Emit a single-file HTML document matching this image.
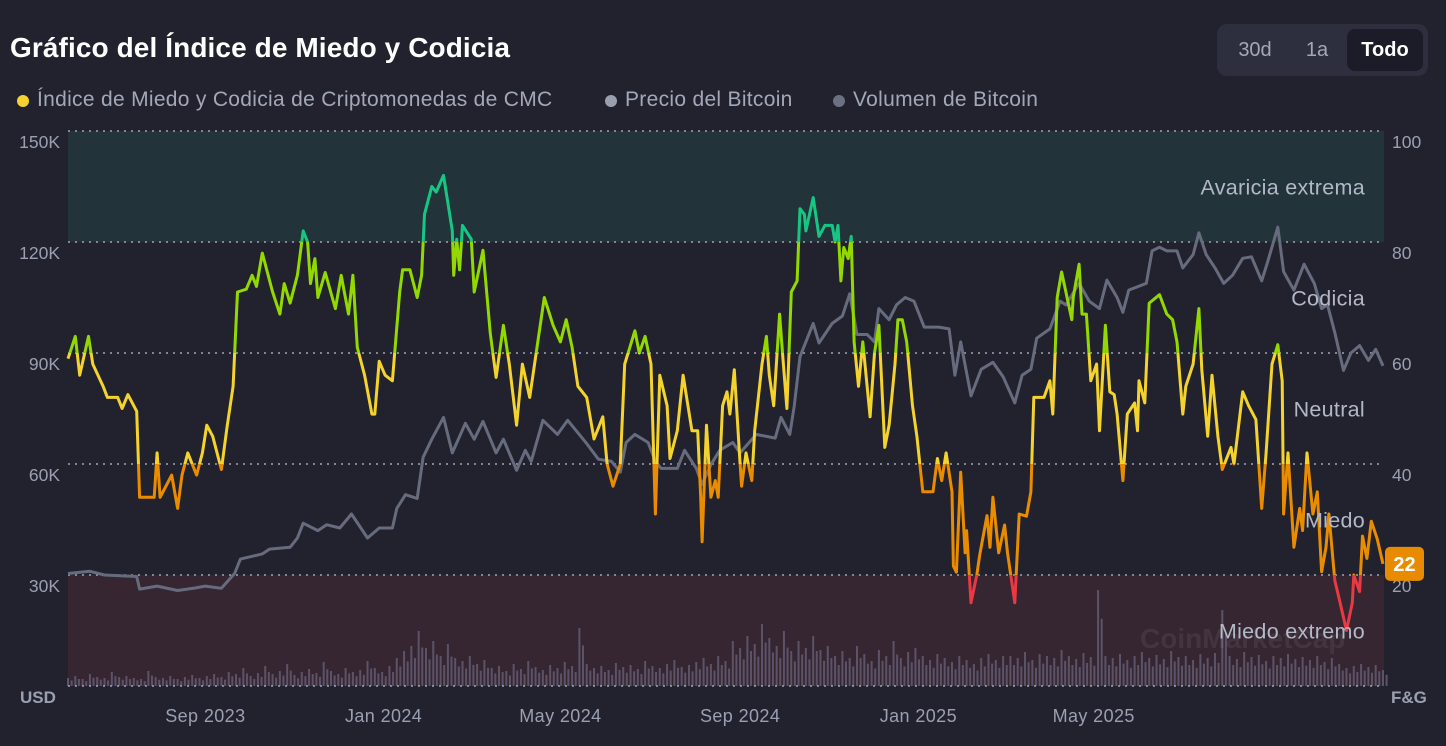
<!DOCTYPE html>
<html><head><meta charset="utf-8">
<style>
html,body{margin:0;padding:0;background:#21222e;width:1446px;height:746px;overflow:hidden;font-family:"Liberation Sans",sans-serif}
#title{position:absolute;left:10px;top:32px;font-size:28px;font-weight:bold;color:#fff;letter-spacing:0.1px}
#tabs{position:absolute;left:1217px;top:24px;width:211px;height:52px;background:#2d2f3e;border-radius:10px}
.tab{position:absolute;top:5px;height:42px;line-height:42px;font-size:20px;color:#a3a8b8;text-align:center;border-radius:8px}
.legend{position:absolute;top:88px;font-size:21px;color:#a3a8b8;white-space:nowrap;letter-spacing:0.3px}
.dot{position:absolute;left:-20px;top:7px;width:12px;height:12px;border-radius:6px}
svg{position:absolute;left:0;top:0}
</style></head><body>
<div id="title">Gráfico del Índice de Miedo y Codicia</div>
<div id="tabs">
 <div class="tab" style="left:8px;width:60px">30d</div>
 <div class="tab" style="left:72px;width:56px">1a</div>
 <div class="tab" style="left:130px;width:76px;background:#1b1c27;color:#fff;font-weight:bold">Todo</div>
</div>
<div class="legend" style="left:37px"><span class="dot" style="background:#f4d32f"></span>Índice de Miedo y Codicia de Criptomonedas de CMC</div>
<div class="legend" style="left:625px"><span class="dot" style="background:#9a9fb0"></span>Precio del Bitcoin</div>
<div class="legend" style="left:853px"><span class="dot" style="background:#6b7083"></span>Volumen de Bitcoin</div>
<svg id="chart" width="1446" height="746"></svg>
<script>
const fgDays=[0,5,8,14,17,24,27,34,37,41,47,49,59,61,63,71,75,78,82,88,92,95,99,105,109,113,116,122,126,129,133,140,145,148,152,157,161,164,166,169,171,176,183,187,192,195,198,203,208,210,213,217,222,227,229,234,239,242,244,249,252,257,260,263,264,266,268,270,276,278,284,289,293,298,302,307,311,316,321,326,332,337,341,345,349,355,360,366,369,373,378,381,388,391,395,399,402,405,410,412,417,421,427,431,433,434,437,440,443,445,448,451,453,456,460,461,464,468,470,475,478,480,483,487,489,492,495,499,501,504,505,510,514,518,523,525,527,529,531,534,536,538,541,544,549,552,555,559,562,566,568,571,574,578,581,585,592,595,598,601,605,606,608,611,614,615,618,622,624,629,631,633,637,641,643,648,651,656,659,661,668,672,674,677,680,683,687,688,692,694,697,700,704,706,710,713,716,718,722,725,730,732,733,737,740,747,752,756,759,763,765,770,774,776,780,783,787,790,796,798,804,808,813,817,820,824,828,831,832,835,839,843,845,848,852,855,858,861,863,867,870,875,879,880,884,886,889,892,896,900];
const fgValues=[59,63,56,63,58,54,52,52,50,52.5,49.5,34,34,42,34,38,32,38,42,38,42,47,45,39,47,54,71,71.5,74,72,78,71,67,72.5,69,74,82,80,72.5,77,70,74.5,68,74,67,74,61,56,49,49,58.5,56,55,71,75,75,70,74,85,90,89,92,87,82,74,80.5,75,83,80.5,71,78.5,63.5,55.6,65,58,47,58,52,61,70,65,62,66,61,54,52,44.5,48.5,40,36,40,58,64,60,63,58,31,56,50.5,41,46,56,46,46,34,26,47,34,37,34,50.5,53,49,57,40,36,42,37,46,58,63,56,50.5,67,60,50,71,73,86,85,82,88,81,83,83,80,83,73,79,77,81,62,54,62,48.5,60,65,43,47,58,66,66,62,50.5,45,35,35,41,37,42,35,21.6,20.5,38.5,24,28,15,20,23.6,30.7,25,34,24,29,24,15,31,30.6,35,52,52,55,49,70,74.6,71,66,70,76,67,67,55,58,46,65,53,52.5,49,37,49,51,46,55,51,69,70.5,67,66,62,49,54,58,68,57,45,56,45,39,43,40,53,50.5,48,32,42,58,61.5,55,31,42,25,32,28,42,31,35,20.6,25,31,19,15.7,10,15,20,17,27,23,29.7,26.5,22];
const priceDays=[0,15,25,47,49,61,75,87,94,105,114,118,133,138,152,157,161,171,177,186,194,205,213,222,225,231,239,243,249,257,263,272,278,284,293,298,307,313,317,325,335,342,355,363,372,378,382,388,397,402,406,417,422,430,434,440,446,455,460,471,484,488,494,497,501,510,514,523,530,535,540,547,552,555,562,567,573,579,586,596,603,607,611,618,625,633,640,648,653,659,663,672,679,683,692,699,706,711,718,722,726,738,742,747,752,759,763,770,774,779,785,791,797,804,810,817,821,828,832,839,846,853,858,862,867,873,878,884,890,895,900];
const priceValues=[30.4,31,30,29.6,26.2,27,25.8,26.5,27,26.4,30.4,34.3,35.7,37,37.5,40,44,42,43.6,42.7,46.5,40,42.7,42.7,48,51.7,50.7,61.8,66.7,72.6,63,71,66.7,71.5,63,66.7,58.3,63.7,60.7,71.8,68,71.8,65.5,61.3,60.7,57.8,65.8,68,65.8,60.7,58.8,58.8,63.7,58.8,54.5,59.8,63.7,65.8,63,68,67,72.6,68,75.6,89,98,92.7,98,100,106,95,95,93,102,99,103,105,104,97,97,96.5,84,93,78.4,85.6,87.5,83.6,76.5,84,85.6,94,96.5,104,103,108.8,104,102,109.7,105,101,107,108.8,117.6,118.6,117.6,117.6,113,116.6,122.5,116.6,113,108.8,111,115.6,116,109.5,114.6,124,112,107,114,108.8,102,103,95.5,85.3,90,92,88,91,86.5];
const volumeValues=[8,10,7,12,9,8,14,9,10,8,7,15,9,8,10,7,9,11,8,10,12,9,14,12,18,10,13,20,12,15,22,11,14,17,13,24,15,12,18,14,16,25,18,14,20,28,35,40,55,38,45,30,42,28,25,30,22,26,18,20,15,22,17,25,19,16,21,18,24,20,58,22,18,20,16,23,19,21,17,25,20,18,22,26,19,21,24,28,22,30,25,45,38,50,42,62,48,40,55,35,45,38,50,36,40,30,35,28,40,32,25,36,30,45,28,34,38,30,26,32,28,24,30,26,22,28,32,26,30,30,28,34,26,32,30,28,36,30,27,33,29,96,30,28,32,26,30,34,28,31,27,35,29,30,26,32,28,33,76,30,27,34,29,31,25,30,28,32,27,29,26,30,24,28,22,18,20,22,19,21,16];
const leftTicks=["150K","120K","90K","60K","30K"];
const leftTickValues=[150,120,90,60,30];
const rightTicks=[100,80,60,40,20];
const xTickLabels=["Sep 2023","Jan 2024","May 2024","Sep 2024","Jan 2025","May 2025"];
const xTickDays=[94,216,337,460,582,702];
const zoneLabels=["Avaricia extrema","Codicia","Neutral","Miedo","Miedo extremo"];
const zoneLabelValues=[90,70,50,30,10];
const currentValue=22;

const NS="http://www.w3.org/2000/svg";
const svg=document.getElementById('chart');
const X0=68,X1=1383,Y0=686,TOP=131;
const maxDay=900;
const xS=d=>X0+d/maxDay*(X1-X0);
const yF=v=>Y0-v/100*(Y0-TOP);
const yP=p=>Y0-p/150*(Y0-TOP);
function mk(tag,attrs,parent){const e=document.createElementNS(NS,tag);for(const k in attrs)e.setAttribute(k,attrs[k]);(parent||svg).appendChild(e);return e;}

let z=mk('rect',{x:X0,y:yF(100),width:X1-X0+1,height:yF(80)-yF(100),fill:'#22333a'});


z=mk('rect',{x:X0,y:yF(20),width:X1-X0+1,height:yF(0)-yF(20),fill:'#352631'});



const volG=mk('g',{fill:'#5c5369'});


volumeValues.forEach((v,i)=>{const d=i*5;
 const b=mk('rect',{x:xS(d)-1,y:Y0-v,width:2,height:v},volG);
 
 
 const b2=mk('rect',{x:xS(d)+2.6,y:Y0-v*0.7,width:2,height:v*0.7},volG);
 
 
});

[100,80,60,40,20,0].forEach(v=>{const l=mk('line',{x1:X0,x2:X1,y1:yF(v),y2:yF(v),stroke:'#a0a5b5','stroke-width':1.5,'stroke-dasharray':'2 5'});

});

let pd=priceDays.map((d,i)=>(i?'L':'M')+xS(d).toFixed(1)+' '+yP(priceValues[i]).toFixed(1)).join(' ');
const pl=mk('path',{d:pd,fill:'none',stroke:'#666b7e','stroke-width':3,'stroke-linejoin':'round'});



const defs=mk('defs',{});
const bands=[[100,80,'#16c784'],[80,60,'#93d900'],[60,40,'#f4d32f'],[40,20,'#ea8c00'],[20,-10,'#ea3943']];
let fd=fgDays.map((d,i)=>(i?'L':'M')+xS(d).toFixed(1)+' '+yF(fgValues[i]).toFixed(1)).join(' ');
bands.forEach((b,i)=>{
 const cp=mk('clipPath',{id:'band'+i},defs);
 mk('rect',{x:0,y:i==0?0:yF(b[0]),width:1446,height:yF(b[1])-(i==0?0:yF(b[0]))},cp);
 const p=mk('path',{d:fd,fill:'none',stroke:b[2],'stroke-width':3,'stroke-linejoin':'round','clip-path':'url(#band'+i+')'});
 
 
});

leftTicks.forEach((t,i)=>{const e=mk('text',{x:60,y:yP(leftTickValues[i])+17,'text-anchor':'end','font-size':17.5,fill:'#9aa0b1'});
e.textContent=t;

});
rightTicks.forEach(t=>{const e=mk('text',{x:1392,y:yF(t)+17,'font-size':17.5,fill:'#9aa0b1'});
e.textContent=t;

});
let u=mk('text',{x:20,y:703,'font-size':17,'font-weight':'bold',fill:'#9aa0b1'});u.textContent='USD';


u=mk('text',{x:1391,y:703,'font-size':17,'font-weight':'bold',fill:'#9aa0b1'});u.textContent='F&G';


xTickLabels.forEach((t,i)=>{const e=mk('text',{x:xS(xTickDays[i]),y:722,'text-anchor':'middle','font-size':18,'letter-spacing':'0.4',fill:'#9aa0b1'});
e.textContent=t;

});
zoneLabels.forEach((t,i)=>{const e=mk('text',{x:1365,y:yF(zoneLabelValues[i])+8,'text-anchor':'end','font-size':21.5,'letter-spacing':'0.3',fill:'#b3b8c7'});
e.textContent=t;

});

const wm=mk('text',{x:1140,y:648,'font-size':28,'font-weight':'bold',fill:'#ffffff','fill-opacity':0.07});wm.textContent='CoinMarketCap';



const by=yF(currentValue);
const br=mk('rect',{x:1385,y:by-17,width:39,height:34,rx:5,fill:'#e88b00'});


const bt=mk('text',{x:1404.5,y:by+7,'text-anchor':'middle','font-size':20,'font-weight':'bold',fill:'#fff'});bt.textContent=currentValue;


</script>
</body></html>
